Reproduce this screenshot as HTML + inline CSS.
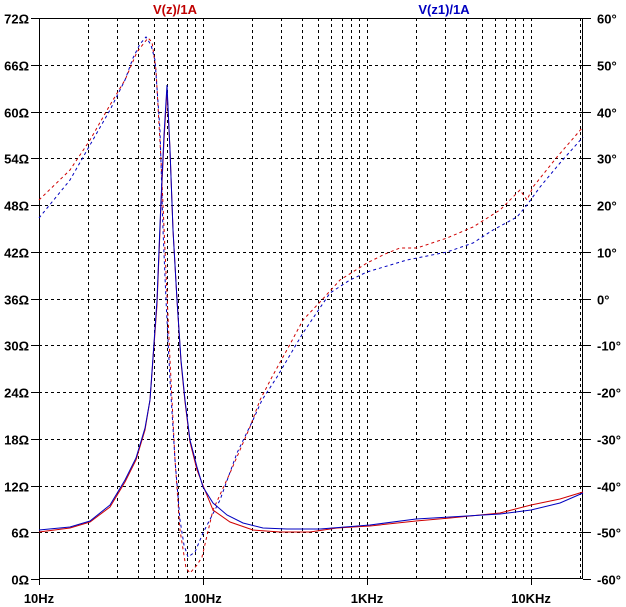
<!DOCTYPE html>
<html><head><meta charset="utf-8"><style>
html,body{margin:0;padding:0;background:#fff}
svg{display:block}
text{font-family:"Liberation Sans",Arial,sans-serif;font-weight:bold;font-size:13px}
</style></head><body>
<svg width="626" height="607" viewBox="0 0 626 607" xmlns="http://www.w3.org/2000/svg">
<rect width="626" height="607" fill="#fff"/>
<g id="grid" stroke="#000" stroke-width="1" stroke-dasharray="3,3" shape-rendering="crispEdges"></g>
<g stroke="#000" stroke-width="1" fill="none" shape-rendering="crispEdges">
<rect x="39.5" y="18.5" width="543" height="560"/>
</g>
<g id="ticks" stroke="#000" stroke-width="1" shape-rendering="crispEdges"></g>
<g id="labels"></g>
<text x="175" y="14" fill="#c00000" text-anchor="middle">V(z)/1A</text>
<text x="444" y="14" fill="#0000c0" text-anchor="middle">V(z1)/1A</text>
<g fill="none" stroke-width="1">
<polyline stroke="#d00000" stroke-dasharray="3,3" points="39,200 70,170 90,140 110,105 125,80 137,52 148,38 152,42 156,70 161,160 165,250 170,360 175,460 180,530 186,568 190,573 197,565 202,557 213,510 230,473 250,427 260,400 272,377 288,348 303,320 320,302 340,280 367,263 385,254 400,248 417,248 447,238 473,227 500,210 520,190 527,200 533,187 557,157 583,127"/>
<polyline stroke="#0000c0" stroke-dasharray="3,3" points="39,218 70,180 90,145 110,110 125,80 133,58 140,44 146,37 151,45 155,60 160,130 163,230 166,300 170,380 175,460 180,520 184,545 188,557 195,552 203,533 220,500 237,453 253,420 262,400 277,377 290,355 303,333 330,293 350,280 367,272 407,260 447,252 473,243 493,230 517,217 527,205 540,187 560,163 583,137"/>
<polyline stroke="#d00000" points="39,532 70,528 90,522 110,507 125,482 136,460 145,430 150,400 157,305 161,205 164,140 167,90 170,150 173,230 177,300 181,362 185,402 190,442 197,470 202,483 213,510 230,522 253,530 280,532 310,532 337,528 370,526 416,521 450,518 500,513 531,505 560,499 583,492"/>
<polyline stroke="#0000c0" points="39,530 70,527 90,521 110,505 125,480 136,458 145,428 150,400 157,300 161,200 164,135 167,85 170,150 173,230 177,300 181,360 185,400 190,440 197,467 203,487 213,503 227,515 243,523 263,528 287,529 320,529 370,525 416,519 450,517 500,514 531,510 560,503 583,493"/>
</g>
<script>
var g=document.getElementById('grid'),t=document.getElementById('ticks'),l=document.getElementById('labels');
var NS='http://www.w3.org/2000/svg';
function ln(p,x1,y1,x2,y2){var e=document.createElementNS(NS,'line');e.setAttribute('x1',x1);e.setAttribute('y1',y1);e.setAttribute('x2',x2);e.setAttribute('y2',y2);p.appendChild(e);}
function tx(s,x,y,a){var e=document.createElementNS(NS,'text');e.setAttribute('x',x);e.setAttribute('y',y);e.setAttribute('text-anchor',a);e.textContent=s;l.appendChild(e);}
var L=39,R=583,T=18,B=579,D=164;
for(var dec=0;dec<4;dec++){for(var m=1;m<=9;m++){var x=L+D*(dec+Math.log10(m));if(x>R-1)continue;x=Math.round(x)+0.5;if(x>L+1)ln(g,x,T,x,B);if(m==1){ln(t,x,B,x,B+6);}}}
for(var i=0;i<=12;i++){var y=Math.round(T+i*46.75)+0.5;if(i>0&&i<12)ln(g,L,y,R,y);ln(t,31,y,L,y);ln(t,R,y,R+8,y);
tx((72-6*i)+'\u03A9',29,y+5,'end');tx((60-10*i)+'\u00B0',597,y+5,'start');}
tx('10Hz',39,603,'middle');tx('100Hz',203,603,'middle');tx('1KHz',367,603,'middle');tx('10KHz',531,603,'middle');
</script>
</svg>
</body></html>
